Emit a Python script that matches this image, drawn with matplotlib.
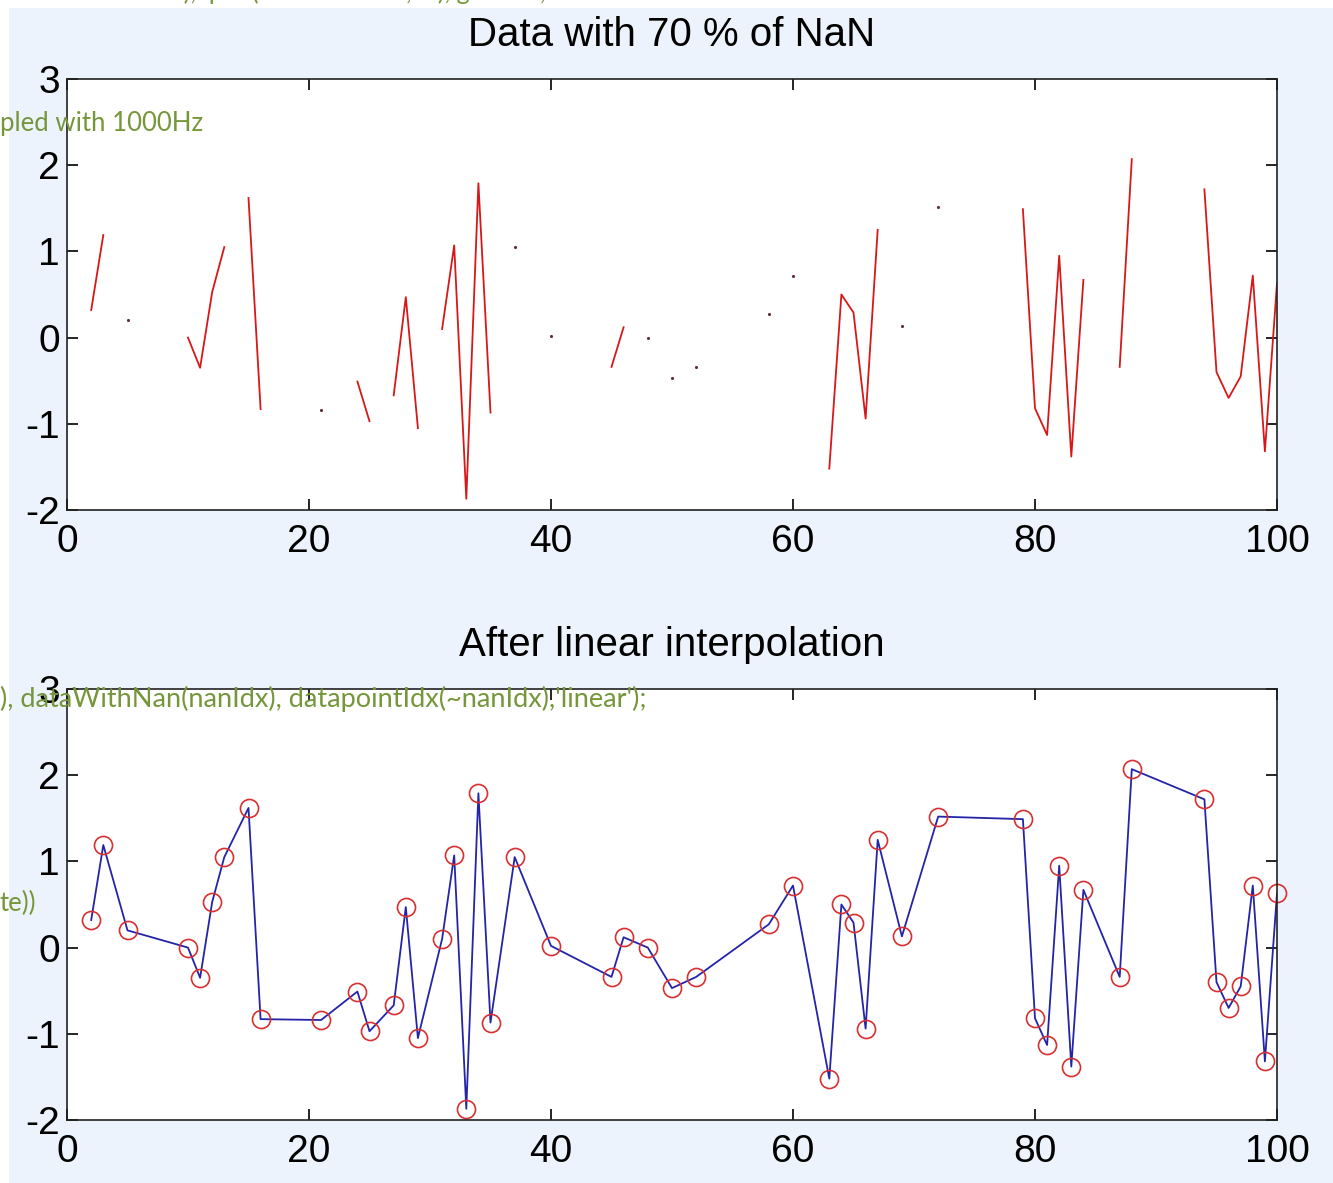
import numpy as np
import matplotlib.pyplot as plt
from matplotlib.patches import Rectangle

known_idx = [2, 3, 5, 10, 11, 12, 13, 15, 16, 21, 24, 25, 27, 28, 29, 31, 32, 33, 34, 35,
             37, 40, 45, 46, 48, 50, 52, 58, 60, 63, 64, 65, 66, 67, 69, 72, 79, 80, 81, 82,
             83, 84, 87, 88, 94, 95, 96, 97, 98, 99, 100]
known_val = [0.32, 1.19, 0.20, 0.00, -0.35, 0.53, 1.05, 1.62, -0.83, -0.84, -0.51, -0.97,
             -0.67, 0.47, -1.05, 0.10, 1.07, -1.87, 1.79, -0.87, 1.05, 0.02, -0.34, 0.12,
             0.00, -0.47, -0.34, 0.27, 0.72, -1.52, 0.50, 0.29, -0.94, 1.25, 0.13, 1.52,
             1.49, -0.82, -1.13, 0.95, -1.38, 0.67, -0.34, 2.07, 1.72, -0.40, -0.70, -0.45,
             0.72, -1.32, 0.63]
n_samples = 100

xticks = [0, 20, 40, 60, 80, 100]
yticks = [-2, -1, 0, 1, 2, 3]
title_top = "Data with 70 % of NaN"
title_bot = "After linear interpolation"

t = np.arange(1, n_samples + 1)
dataWithNan = np.full(n_samples, np.nan)
dataWithNan[np.array(known_idx) - 1] = known_val
# points with NaN on both sides only show up as a dot
padded = np.concatenate([[np.nan], dataWithNan, [np.nan]])
lonely = ~np.isnan(dataWithNan) & np.isnan(padded[:-2]) & np.isnan(padded[2:])

bg = "#ECF3FC"
fig = plt.figure(figsize=(13.33, 11.83), dpi=100, facecolor=bg)
W, H = 1333, 1183

def axes_px(left, top, right, bottom):
    return fig.add_axes([left / W, 1 - bottom / H, (right - left) / W, (bottom - top) / H])

ax1 = axes_px(67, 79, 1277, 510)
ax2 = axes_px(67, 689, 1277, 1120)

ax1.plot(t, dataWithNan, "-", color="#d81818", lw=1.3)
ax1.plot(t[lonely], dataWithNan[lonely], ".", color="#603030", ms=2.5)

ax2.plot(known_idx, known_val, "-", color="#2424a8", lw=1.3)
ax2.plot(known_idx, known_val, "o", mfc="none", mec="#d83030", ms=13, mew=1.2, clip_on=False)

font = ["Liberation Sans", "DejaVu Sans"]
for ax, ttl in [(ax1, title_top), (ax2, title_bot)]:
    ax.set_xlim(0, 100)
    ax.set_ylim(-2, 3)
    ax.set_xticks(xticks)
    ax.set_yticks(yticks)
    ax.set_xticklabels([str(v) for v in xticks], fontsize=28, family=font)
    ax.set_yticklabels([str(v) for v in yticks], fontsize=28, family=font)
    ax.tick_params(direction="in", length=8, width=1.2, top=True, right=True, colors="black")
    ax.tick_params(axis="x", pad=10)
    ax.tick_params(axis="y", pad=5)
    for s in ax.spines.values():
        s.set_linewidth(1.2)
        s.set_color("#222222")
    ax.set_title(ttl, fontsize=29, family=font, pad=24)
    ax.set_facecolor("white")

# white strips at the screenshot edge
fig.add_artist(Rectangle((0, 1 - 8 / H), 1, 8 / H, transform=fig.transFigure,
                         facecolor="white", edgecolor="none", zorder=0))
fig.add_artist(Rectangle((0, 0), 9 / W, 1, transform=fig.transFigure,
                         facecolor="white", edgecolor="none", zorder=0))

# code text from the web page lying over the figure
green = "#76963A"
gfont = ["Lato", "DejaVu Sans"]
fig.text(150 / W, 1 - 0 / H, "ata),  plot(dataWithNan, 'r'), gr id on;", color=green,
         fontsize=18, family=gfont, va="baseline", zorder=5)
fig.text(0, 1 - 131 / H, "pled with 1000Hz", color=green, fontsize=18.5, family=gfont,
         va="baseline", zorder=5)
fig.text(0, 1 - 707 / H, "), dataWithNan(nanIdx), datapointIdx(~nanIdx),'linear');", color=green,
         fontsize=19.5, family=gfont, va="baseline", zorder=5)
fig.text(0, 1 - 911 / H, "te))", color=green, fontsize=18.5, family=gfont,
         va="baseline", zorder=5)

plt.savefig("out.png", dpi=100, facecolor=bg)
